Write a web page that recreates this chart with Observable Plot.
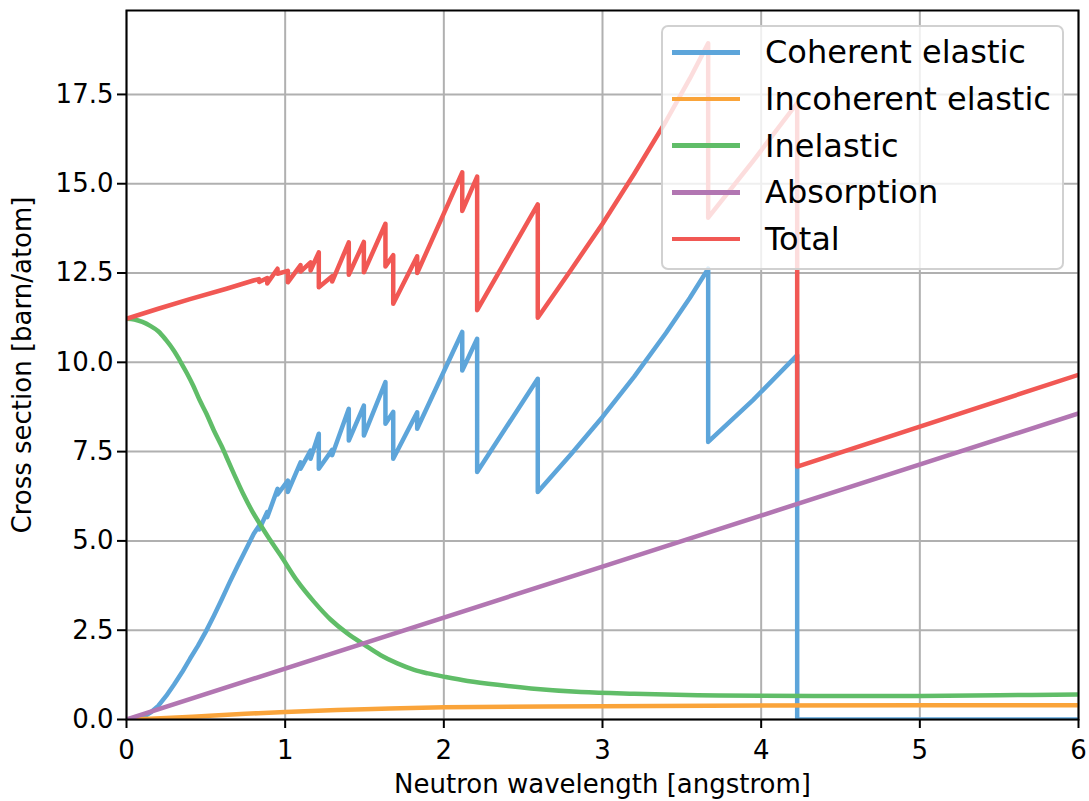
<!DOCTYPE html>
<html>
<head>
<meta charset="utf-8">
<script src="https://cdn.jsdelivr.net/npm/d3@7"></script>
<script src="https://cdn.jsdelivr.net/npm/@observablehq/plot@0.6"></script>
<style>
  html, body { margin: 0; padding: 0; background: white; }
  #wrap { position: relative; width: 1089px; height: 801px; font-family: "DejaVu Sans", sans-serif; }
  #legend {
    position: absolute; left: 661px; top: 25px; width: 403px; height: 245px;
    background: rgba(255,255,255,0.8); border: 2px solid rgba(204,204,204,0.9);
    border-radius: 7px; box-sizing: border-box; padding-top: 2px;
  }
  .row { display: flex; align-items: center; height: 46.7px; }
  .sw { width: 68px; height: 4.5px; margin-left: 9px; margin-right: 25px; }
  .lb { font-size: 32px; color: black; line-height: 1; white-space: nowrap; }
</style>
</head>
<body>
<div id="wrap"><div id="legend"></div></div>
<script>
const xTicks = [0, 1, 2, 3, 4, 5, 6];
const yTicks = [0, 2.5, 5, 7.5, 10, 12.5, 15, 17.5];
const seriesNames = ["Coherent elastic", "Incoherent elastic", "Inelastic", "Absorption", "Total"];
const seriesColors = ["#5DA5DA", "#FAA43A", "#60BD68", "#B276B2", "#F15854"];

const coherentX = [0, 0.05, 0.1, 0.15, 0.2, 0.25, 0.3, 0.35, 0.4, 0.45, 0.5, 0.55, 0.6, 0.65, 0.7,
  0.739, 0.802, 0.835, 0.836,
  0.887, 0.887, 0.952, 0.952, 1.017, 1.017, 1.097, 1.097, 1.16, 1.16, 1.212, 1.212, 1.296, 1.296,
  1.401, 1.401, 1.496, 1.496, 1.632, 1.632, 1.681, 1.681, 1.832, 1.832, 2.116, 2.116, 2.21, 2.21,
  2.592, 2.592, 2.8, 3.0, 3.2, 3.4, 3.55, 3.666, 3.666, 3.95, 4.227, 4.227, 6];
const coherentY = [0, 0.005, 0.05, 0.19, 0.38, 0.66, 0.98, 1.32, 1.7, 2.06, 2.46, 2.9, 3.36, 3.84, 4.3,
  4.64, 5.2, 5.42, 5.32,
  5.81, 5.66, 6.46, 6.3, 6.69, 6.37, 7.2, 7.02, 7.53, 7.3, 8.0, 7.02, 7.55, 7.4,
  8.7, 7.81, 8.79, 7.95, 9.45, 8.28, 8.61, 7.3, 8.6, 8.14, 10.85, 9.77, 10.66, 6.93,
  9.54, 6.37, 7.42, 8.47, 9.6, 10.82, 11.8, 12.62, 7.77, 8.95, 10.2, 0, 0];

const incoherentX = [0, 0.25, 0.5, 0.75, 1.0, 1.5, 2, 3, 4, 5, 6];
const incoherentY = [0, 0.04, 0.1, 0.16, 0.21, 0.29, 0.34, 0.37, 0.39, 0.4, 0.4];

const inelasticX = [0, 0.05, 0.1, 0.15, 0.2, 0.25, 0.3, 0.336, 0.38, 0.42, 0.46, 0.504, 0.55, 0.6,
  0.63, 0.68, 0.735, 0.79, 0.84, 0.9, 0.972, 1.076, 1.181, 1.286, 1.392, 1.5, 1.602, 1.707, 1.813,
  1.9, 2.0, 2.15, 2.338, 2.549, 2.864, 3.2, 3.6, 4.0, 4.5, 5.0, 5.5, 6.0];
const inelasticY = [11.22, 11.2, 11.13, 11.02, 10.87, 10.62, 10.32, 10.05, 9.7, 9.35, 8.95, 8.56, 8.1, 7.65,
  7.35, 6.85, 6.32, 5.85, 5.48, 5.06, 4.59, 3.88, 3.3, 2.8, 2.41, 2.09, 1.8, 1.57, 1.39,
  1.29, 1.2, 1.08, 0.97, 0.87, 0.77, 0.72, 0.68, 0.665, 0.655, 0.66, 0.68, 0.7];

const absorptionX = [0, 3, 6];
const absorptionY = [0, 4.28, 8.57];

const totalX = [0, 0.2, 0.4, 0.63, 0.8, 0.835, 0.836,
  0.887, 0.887, 0.952, 0.952, 1.017, 1.017, 1.097, 1.097, 1.16, 1.16, 1.212, 1.212, 1.296, 1.296,
  1.401, 1.401, 1.496, 1.496, 1.632, 1.632, 1.681, 1.681, 1.832, 1.832, 2.116, 2.116, 2.21, 2.21,
  2.592, 2.592, 2.8, 3.0, 3.2, 3.4, 3.55, 3.666, 3.666, 3.95, 4.227, 4.227, 6];
const totalY = [11.22, 11.5, 11.77, 12.06, 12.29, 12.33, 12.25,
  12.36, 12.21, 12.62, 12.48, 12.56, 12.24, 12.72, 12.54, 12.8, 12.57, 13.08, 12.1, 12.41, 12.26,
  13.36, 12.45, 13.37, 12.52, 13.88, 12.68, 13.0, 11.64, 12.97, 12.5, 15.32, 14.24, 15.2, 11.46,
  14.42, 11.25, 12.58, 13.88, 15.28, 16.75, 17.94, 18.93, 14.05, 15.64, 17.26, 7.08, 9.65];

const seriesXs = [coherentX, incoherentX, inelasticX, absorptionX, totalX];
const seriesYs = [coherentY, incoherentY, inelasticY, absorptionY, totalY];
const seriesCurves = ["linear", "catmull-rom", "catmull-rom", "linear", "linear"];

const lineMarks = seriesNames.map((name, i) => {
  const rows = seriesXs[i].map((x, j) => ({x, y: seriesYs[i][j]}));
  return Plot.line(rows, {x: "x", y: "y", stroke: seriesColors[i], strokeWidth: 4.5,
    curve: seriesCurves[i], strokeLinejoin: "round", strokeLinecap: "butt", clip: true});
});

const chart = Plot.plot({
  width: 1089,
  height: 801,
  marginLeft: 126,
  marginRight: 11,
  marginTop: 10,
  marginBottom: 82,
  style: {fontFamily: "DejaVu Sans", fontSize: "26px", color: "black", background: "white"},
  x: {domain: [0, 6]},
  y: {domain: [0, 19.85]},
  marks: [
    Plot.gridX(xTicks, {stroke: "#b0b0b0", strokeOpacity: 1, strokeWidth: 2}),
    Plot.gridY(yTicks, {stroke: "#b0b0b0", strokeOpacity: 1, strokeWidth: 2}),
    ...lineMarks,
    Plot.frame({stroke: "black", strokeWidth: 2}),
    Plot.axisX(xTicks, {tickSize: 9, tickPadding: 12, strokeWidth: 2, fontSize: 26,
      tickFormat: d => String(d), label: "Neutron wavelength [angstrom]",
      labelAnchor: "center", labelArrow: "none", labelOffset: 73}),
    Plot.axisY(yTicks, {tickSize: 9, tickPadding: 4, strokeWidth: 2, fontSize: 26,
      tickFormat: d => d.toFixed(1), label: "Cross section [barn/atom]",
      labelAnchor: "center", labelArrow: "none", labelOffset: 114})
  ]
});

const wrap = document.getElementById("wrap");
wrap.insertBefore(chart, wrap.firstChild);

const legend = document.getElementById("legend");
seriesNames.forEach((name, i) => {
  const row = document.createElement("div");
  row.className = "row";
  const sw = document.createElement("div");
  sw.className = "sw";
  sw.style.background = seriesColors[i];
  const lb = document.createElement("div");
  lb.className = "lb";
  lb.textContent = name;
  row.appendChild(sw);
  row.appendChild(lb);
  legend.appendChild(row);
});
</script>
</body>
</html>
